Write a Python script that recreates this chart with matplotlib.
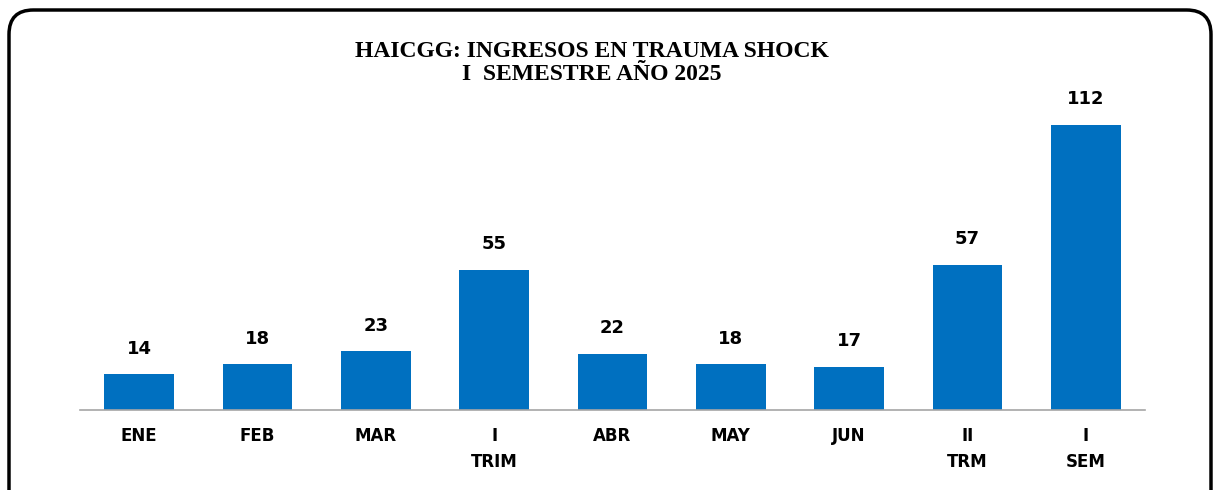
import matplotlib
matplotlib.use("Agg")
import matplotlib.pyplot as plt
from matplotlib.patches import FancyBboxPatch

categories = ["ENE", "FEB", "MAR", "I\nTRIM", "ABR", "MAY", "JUN", "II\nTRM", "I\nSEM"]
values = [14, 18, 23, 55, 22, 18, 17, 57, 112]
title = "HAICGG: INGRESOS EN TRAUMA SHOCK\nI  SEMESTRE AÑO 2025"

fig = plt.figure(figsize=(12.15, 4.9), dpi=100)
fig.patches.append(FancyBboxPatch((9/1215, -0.05), 1202/1215, (480/490) + 0.05,
                                  boxstyle="round,pad=0,rounding_size=0.02",
                                  transform=fig.transFigure, fill=False,
                                  edgecolor="black", linewidth=2.5, mutation_aspect=1215/490))

ax = fig.add_axes([80/1215, 80/490, 1065/1215, 310/490])
x = range(len(categories))
bars = ax.bar(x, values, width=0.59, color="#0070C0")
ax.set_xlim(-0.5, len(categories) - 0.5)
ax.set_ylim(0, 310/2.545)
for b, v in zip(bars, values):
    ax.annotate(str(v), (b.get_x() + b.get_width()/2, v), xytext=(0, 12),
                textcoords="offset points", ha="center", va="bottom",
                fontsize=13, fontweight="bold", family="DejaVu Sans")
ax.set_xticks(list(x))
ax.set_xticklabels(categories, fontsize=12, fontweight="bold", linespacing=1.6)
ax.tick_params(axis="x", length=0, pad=12)
ax.set_yticks([])
for s in ["top", "right", "left"]:
    ax.spines[s].set_visible(False)
ax.spines["bottom"].set_color("#a6a6a6")
ax.spines["bottom"].set_linewidth(1.2)

fig.text(592/1215, 1 - 63/490, title, ha="center", va="center", fontsize=17,
         fontweight="bold", family="Liberation Serif", linespacing=1.15)

fig.savefig("out.png", dpi=100)
